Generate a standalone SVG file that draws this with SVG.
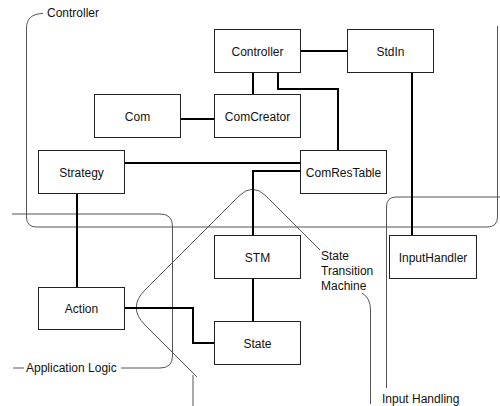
<svg xmlns="http://www.w3.org/2000/svg" width="500" height="406" viewBox="0 0 500 406">
<style>
.box rect{fill:#fff;stroke:#222;stroke-width:1}
.box text,.lbl{font-family:"Liberation Sans",Arial,sans-serif;font-size:12px;fill:#111}
.box text{text-anchor:middle}
.bd{fill:none;stroke:#555;stroke-width:1}
.cn{fill:none;stroke:#000;stroke-width:2}
</style>
<rect width="500" height="406" fill="#fff"/>
<g id="boundaries">
<path class="bd" d="M43,13.5 C32,13.5 26.5,19 26.5,28 L26.5,217 Q26.5,227 36.5,227 L487,227 Q497.5,227 497.5,217 L497.5,26"/>
<path class="bd" d="M12,214 L160,214 Q172.5,214 172.5,226 L172.5,356 Q172.5,368 160,368 L121,368 M13,368 L24,368"/>
<path class="bd" d="M320,250 L266,196 Q252.5,182.5 239,196 L145,290 Q127.5,307.5 145,325 L197,377 M193,375 L193,406 M362,293 Q370.5,298 370.5,310 L370.5,404"/>
<path class="bd" d="M386.5,388 L386.5,207 Q386.5,197 396,197 L500,197"/>
</g>
<g id="connectors">
<path class="cn" d="M300,51 L347,51"/>
<path class="cn" d="M253,72 L253,94"/>
<path class="cn" d="M278,72 L278,89 L338,89 L338,150"/>
<path class="cn" d="M180,119 L214,119"/>
<path class="cn" d="M124,163 L300,163"/>
<path class="cn" d="M300,171 L253,171 L253,235"/>
<path class="cn" d="M412,72 L412,239"/>
<path class="cn" d="M77,193 L77,287"/>
<path class="cn" d="M253,278 L253,321"/>
<path class="cn" d="M124,308 L193,308 L193,343 L214,343"/>
</g>
<g id="Controller" class="box"><rect x="214.5" y="29.5" width="86" height="43"/><text x="257.5" y="55.5">Controller</text></g>
<g id="StdIn" class="box"><rect x="347.5" y="29.5" width="86" height="43"/><text x="390.5" y="55.5">StdIn</text></g>
<g id="Com" class="box"><rect x="94.5" y="94.5" width="86" height="43"/><text x="137.5" y="120.5">Com</text></g>
<g id="ComCreator" class="box"><rect x="214.5" y="94.5" width="86" height="43"/><text x="257.5" y="120.5">ComCreator</text></g>
<g id="Strategy" class="box"><rect x="38.5" y="150.5" width="86" height="43"/><text x="81.5" y="176.5">Strategy</text></g>
<g id="ComResTable" class="box"><rect x="300.5" y="150.5" width="86" height="43"/><text x="343.5" y="176.5">ComResTable</text></g>
<g id="STM" class="box"><rect x="214.5" y="235.5" width="86" height="43"/><text x="257.5" y="261.5">STM</text></g>
<g id="InputHandler" class="box"><rect x="389.5" y="235.5" width="87" height="43"/><text x="433" y="261.5">InputHandler</text></g>
<g id="Action" class="box"><rect x="38.5" y="287.5" width="86" height="42"/><text x="81.5" y="313">Action</text></g>
<g id="State" class="box"><rect x="214.5" y="321.5" width="86" height="43"/><text x="257.5" y="347.5">State</text></g>
<g id="labels">
<text class="lbl" x="47" y="17">Controller</text>
<text class="lbl" x="26" y="372">Application Logic</text>
<text class="lbl" x="321" y="260">State</text>
<text class="lbl" x="321" y="275">Transition</text>
<text class="lbl" x="321" y="290">Machine</text>
<text class="lbl" x="382" y="403">Input Handling</text>
</g>
</svg>
